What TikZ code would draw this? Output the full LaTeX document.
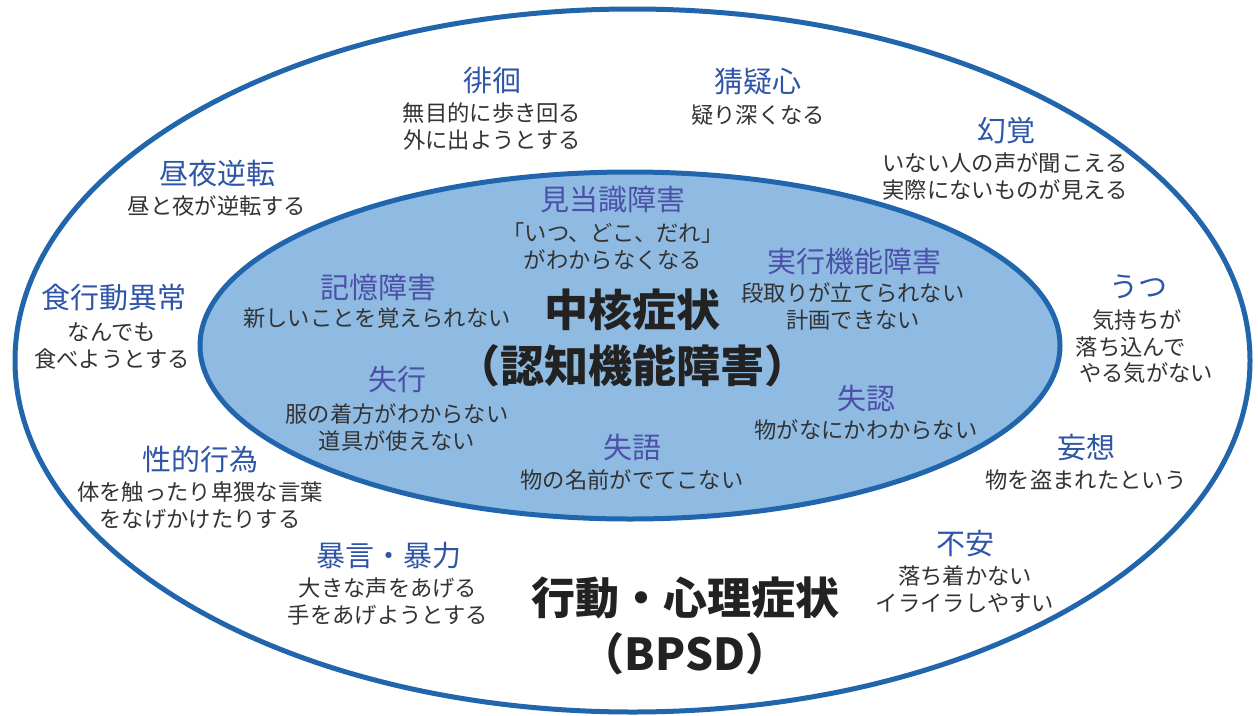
\documentclass[tikz,border=0pt]{standalone}
\usepackage{fontspec}
\setmainfont{Noto Sans CJK JP}
\definecolor{ringblue}{HTML}{2166AC}
\definecolor{innerfill}{HTML}{8FBBE3}
\definecolor{headblue}{HTML}{2F55A8}
\definecolor{innerhead}{HTML}{4C50A8}
\definecolor{textgray}{HTML}{333333}
\definecolor{titleblack}{HTML}{222222}
\tikzset{
  ring/.style={line width=5pt, draw=ringblue},
  head/.style={font=\fontsize{29}{32}\selectfont, text=headblue, inner sep=0pt, anchor=center},
  ihead/.style={head, text=innerhead},
  desc/.style={font=\fontsize{22.3}{27}\selectfont, text=textgray, align=center, inner sep=0pt, anchor=center},
  bigtitle/.style={font=\bfseries\fontsize{44}{56}\selectfont, text=titleblack, align=center, inner sep=0pt, anchor=center}
}
\begin{document}
\begin{tikzpicture}[x=1pt,y=-1pt]
\fill[white] (0,0) rectangle (1258,715);
\useasboundingbox (0,0) rectangle (1258,715);
% ellipses
\draw[ring, fill=white] (632.5,360.5) ellipse [x radius=617.5, y radius=351.5];
\draw[ring, fill=innerfill] (630,345.5) ellipse [x radius=430, y radius=173.5];

% outer items
\node[head] (h1) at (217,173) {昼夜逆転};
\node[desc] (d1) at (217,206) {昼と夜が逆転する};
\node[head] (h2) at (492,80) {徘徊};
\node[desc] (d2) at (492,126.5) {無目的に歩き回る\\外に出ようとする};
\node[head] (h3) at (758,82) {猜疑心};
\node[desc] (d3) at (758,115) {疑り深くなる};
\node[head] (h4) at (1006,131) {幻覚};
\node[desc] (d4) at (1005,176.5) {いない人の声が聞こえる\\実際にないものが見える};
\node[head] (h5) at (113.5,298) {食行動異常};
\node[desc] (d5) at (112,346) {なんでも\\食べようとする};
\node[head] (h6) at (1138,287) {うつ};
\node[desc] (d6a) at (1137,320) {気持ちが};
\node[desc] (d6b) at (1131,347) {落ち込んで};
\node[desc] (d6c) at (1146,373) {やる気がない};
\node[head] (h7) at (200,459) {性的行為};
\node[desc] (d7) at (200,505) {体を触ったり卑猥な言葉\\をなげかけたりする};
\node[head] (h8) at (389,556) {暴言・暴力};
\node[desc] (d8) at (388,601.5) {大きな声をあげる\\手をあげようとする};
\node[head] (h9) at (1086,448) {妄想};
\node[desc] (d9) at (1086,480) {物を盗まれたという};
\node[head] (h10) at (965,543) {不安};
\node[desc] (d10) at (965,589) {落ち着かない\\イライラしやすい};
\node[bigtitle] (t2) at (685,626) {行動・心理症状\\（BPSD）};

% inner items
\node[ihead] (i1) at (613,200) {見当識障害};
\node[desc] (j1) at (613,246.5) {「いつ、どこ、だれ」\\がわからなくなる};
\node[ihead] (i2) at (378,287) {記憶障害};
\node[desc] (j2) at (377,318) {新しいことを覚えられない};
\node[ihead] (i3) at (854,262) {実行機能障害};
\node[desc] (j3) at (853,306.5) {段取りが立てられない\\計画できない};
\node[ihead] (i4) at (397,380) {失行};
\node[desc] (j4) at (397,427.5) {服の着方がわからない\\道具が使えない};
\node[ihead] (i5) at (866,398) {失認};
\node[desc] (j5) at (866,430) {物がなにかわからない};
\node[ihead] (i6) at (632,447) {失語};
\node[desc] (j6) at (632,480) {物の名前がでてこない};
\node[bigtitle] (t1) at (632,337.5) {中核症状\\（認知機能障害）};
\end{tikzpicture}
\end{document}
